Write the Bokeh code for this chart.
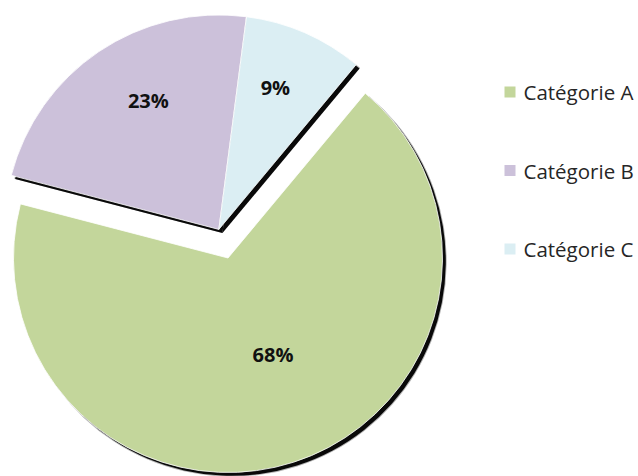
import math
from bokeh.plotting import figure
from bokeh.models import ColumnDataSource, Range1d
from bokeh.core.properties import value
from bokeh.embed import file_html
from bokeh.resources import INLINE

# ---- data ----
categories = ["Catégorie A", "Catégorie B", "Catégorie C"]
values = [68, 23, 9]
colors = ["#C3D69B", "#CCC1DA", "#DBEEF3"]
exploded = [False, True, True]

# ---- layout / style constants ----
W, H = 638, 476
FIRST_ANGLE = 50.2          # degrees, math orientation, start of first slice (clockwise)
CX, CY = 227.5, H - 257.5
R = 214.5
EXPLODE = 30.0
SHADOW_DX, SHADOW_DY = 3.6, -3.6
LABEL_FRAC = [0.496, 0.684, 0.713]
LABEL_DANG = [7.2, -5.3, 1.9]
LEG_X, LEG_Y0, LEG_STEP = 509.5, H - 91.5, 78.5

total = float(sum(values))
starts, ends, mids = [], [], []
a = FIRST_ANGLE
for v in values:
    span = 360.0 * v / total
    starts.append(a)
    ends.append(a - span)
    mids.append(a - span / 2)
    a -= span

# explode the flagged group along its common bisector
ex_idx = [i for i, e in enumerate(exploded) if e]
if ex_idx:
    g_mid = (starts[ex_idx[0]] + ends[ex_idx[-1]]) / 2.0
    ox = EXPLODE * math.cos(math.radians(g_mid))
    oy = EXPLODE * math.sin(math.radians(g_mid))
else:
    ox = oy = 0.0
xs = [CX + (ox if e else 0.0) for e in exploded]
ys = [CY + (oy if e else 0.0) for e in exploded]

pcts = ["%d%%" % round(100 * v / total) for v in values]
lx = [x + R * f * math.cos(math.radians(m + d)) for x, f, m, d in zip(xs, LABEL_FRAC, mids, LABEL_DANG)]
ly = [y + R * f * math.sin(math.radians(m + d)) for y, f, m, d in zip(ys, LABEL_FRAC, mids, LABEL_DANG)]

src = ColumnDataSource(dict(
    x=xs, y=ys, sx=[x + SHADOW_DX for x in xs], sy=[y + SHADOW_DY for y in ys],
    start=[math.radians(s) for s in starts], end=[math.radians(e) for e in ends],
    color=colors, cat=categories, pct=pcts, lx=lx, ly=ly,
    legx=[LEG_X] * len(categories),
    legy=[LEG_Y0 - i * LEG_STEP for i in range(len(categories))],
    legtx=[LEG_X + 13.5] * len(categories),
))

p = figure(width=W, height=H, output_backend="svg", toolbar_location=None,
           x_range=Range1d(0, W), y_range=Range1d(0, H),
           min_border=0, outline_line_color=None)
p.axis.visible = False
p.grid.visible = False
p.background_fill_color = "white"
p.border_fill_color = "white"

# shadows (soft edge + solid core)
p.wedge(x="sx", y="sy", radius=R + 0.6, start_angle="start", end_angle="end", direction="clock",
        source=src, fill_color="black", fill_alpha=0.3, line_color=None)
p.wedge(x="sx", y="sy", radius=R - 0.3, start_angle="start", end_angle="end", direction="clock",
        source=src, fill_color="black", fill_alpha=0.95, line_color=None)
# slices
p.wedge(x="x", y="y", radius=R, start_angle="start", end_angle="end", direction="clock",
        source=src, fill_color="color", line_color="white", line_width=0.8)

# percentage labels
p.text(x="lx", y="ly", text="pct", source=src, text_align="center", text_baseline="middle",
       text_font=value("Open Sans"), text_font_style="bold", text_font_size="20px",
       text_color="#111111")

# legend
p.rect(x="legx", y="legy", width=11, height=11, source=src, fill_color="color", line_color=None)
p.text(x="legtx", y="legy", text="cat", source=src, text_align="left", text_baseline="middle",
       text_font=value("Open Sans"), text_font_size="20.5px", text_color="#262626")

open("out.html", "w").write(file_html(p, INLINE))
